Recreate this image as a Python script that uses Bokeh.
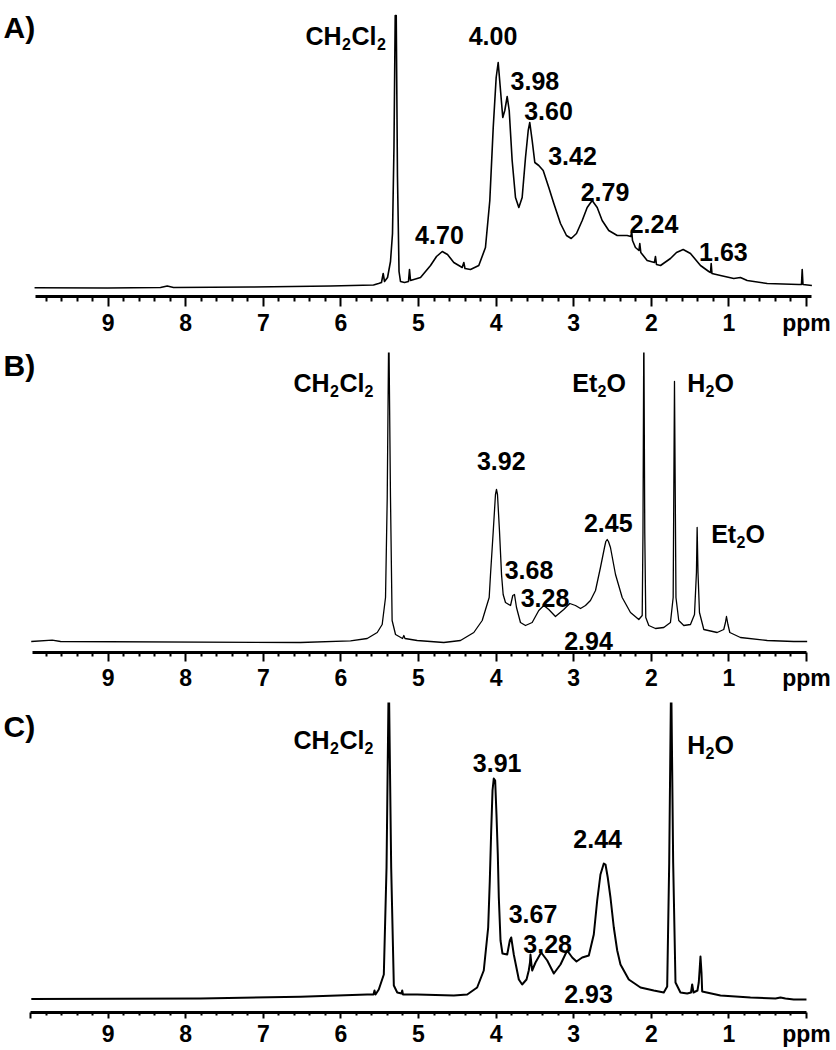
from bokeh.plotting import figure
from bokeh.models import Range1d, FixedTicker, Label
from bokeh.layouts import column
from bokeh.embed import file_html
from bokeh.resources import INLINE

# ---------------- data (chemical shift in ppm, intensity in a.u.) ----------------
A_ppm = [9.948, 9.008, 8.325, 8.238, 8.157, 7.165, 6.134, 5.580, 5.515, 5.477, 5.455, 5.438,
         5.399, 5.361, 5.335, 5.316, 5.300, 5.287, 5.271, 5.251, 5.232, 5.180, 5.129, 5.116,
         5.103, 4.974, 4.845, 4.768, 4.694, 4.626, 4.545, 4.437, 4.416, 4.401, 4.330, 4.223,
         4.137, 4.081, 4.037, 3.999, 3.973, 3.943, 3.914, 3.888, 3.857, 3.831, 3.793, 3.750,
         3.707, 3.664, 3.621, 3.586, 3.566, 3.535, 3.501, 3.450, 3.393, 3.321, 3.256, 3.170,
         3.093, 3.032, 2.964, 2.890, 2.826, 2.762, 2.697, 2.633, 2.548, 2.439, 2.311, 2.262,
         2.253, 2.242, 2.204, 2.159, 2.148, 2.135, 2.053, 1.959, 1.946, 1.933, 1.881, 1.753,
         1.675, 1.589, 1.495, 1.366, 1.259, 1.237, 1.228, 1.218, 1.108, 0.937, 0.851, 0.764,
         0.506, 0.099, 0.064, 0.055, 0.045, -0.07]
A_int = [8.7, 8.5, 9, 10.5, 9, 9.5, 10.5, 11.5, 13, 14, 23, 15,
         19, 35, 63, 150, 281, 281, 120, 25, 15, 14, 15, 27,
         16, 19, 31, 40, 45, 42, 34, 29, 34, 28, 27, 31,
         49, 96, 169, 219, 234, 206, 179, 186, 200, 186, 136, 99,
         89, 99, 139, 166, 174, 156, 134, 131, 126, 109, 93, 73,
         61, 58, 63, 76, 89, 96, 89, 76, 66, 61, 61, 60,
         66, 56, 49, 46, 53, 44, 36, 34, 40, 32, 31, 38,
         44, 47, 43, 31, 25, 24, 33, 23, 21, 18, 19, 16,
         13, 12, 12, 27, 12, 11]

B_ppm = [9.991, 9.720, 9.613, 6.521, 5.876, 5.661, 5.532, 5.468, 5.425, 5.403, 5.383, 5.361,
         5.340, 5.296, 5.206, 5.189, 5.174, 5.017, 4.674, 4.459, 4.287, 4.179, 4.089, 4.072,
         4.037, 4.008, 3.995, 3.982, 3.956, 3.930, 3.909, 3.879, 3.814, 3.785, 3.763, 3.737,
         3.686, 3.621, 3.535, 3.450, 3.385, 3.321, 3.235, 3.128, 3.050, 2.977, 2.912, 2.848,
         2.784, 2.719, 2.655, 2.603, 2.586, 2.568, 2.552, 2.526, 2.461, 2.375, 2.268, 2.161,
         2.117, 2.107, 2.096, 2.084, 2.071, 2.032, 1.946, 1.839, 1.753, 1.718, 1.701, 1.682,
         1.646, 1.581, 1.495, 1.443, 1.418, 1.409, 1.398, 1.379, 1.323, 1.151, 1.066, 1.044,
         1.031, 1.012, 0.988, 0.851, 0.506, 0.164, -0.009]
B_int = [11, 12.4, 11, 10, 11.7, 14, 20, 28, 55, 155, 330, 155,
         32, 18, 14, 17, 14, 12, 10, 12, 20, 32, 55, 78,
         121, 158, 163, 158, 121, 78, 58, 50, 47, 57, 58, 45,
         30, 27, 30, 42, 47, 43, 36, 43, 49, 47, 44, 47,
         52, 62, 85, 105, 111, 113, 111, 105, 78, 55, 40, 33,
         37, 120, 330, 120, 35, 27, 24, 25, 30, 55, 271, 55,
         32, 27, 28, 38, 80, 125, 80, 40, 23, 20, 23, 30,
         36, 28, 20, 15, 12, 11, 11]

C_ppm = [9.990, 7.809, 6.521, 5.661, 5.580, 5.567, 5.554, 5.512, 5.447, 5.412, 5.383, 5.352,
         5.318, 5.274, 5.219, 5.210, 5.200, 5.017, 4.545, 4.372, 4.244, 4.159, 4.102, 4.081,
         4.063, 4.046, 4.030, 4.012, 3.995, 3.978, 3.965, 3.943, 3.918, 3.857, 3.823, 3.805,
         3.772, 3.707, 3.664, 3.608, 3.579, 3.563, 3.557, 3.544, 3.535, 3.492, 3.419, 3.341,
         3.256, 3.170, 3.084, 3.019, 2.964, 2.890, 2.805, 2.741, 2.697, 2.655, 2.612, 2.590,
         2.561, 2.526, 2.483, 2.439, 2.397, 2.290, 2.139, 1.968, 1.839, 1.795, 1.769, 1.744,
         1.718, 1.688, 1.624, 1.537, 1.488, 1.473, 1.456, 1.405, 1.388, 1.375, 1.366, 1.353,
         1.344, 1.108, 0.722, 0.399, 0.335, 0.271, 0.164, 0.0]
C_int = [13.4, 14, 15.7, 18, 18, 22, 18, 23, 38, 145, 340, 145,
         27, 20, 19, 22, 18, 18, 17, 18, 25, 42, 85, 132,
         182, 222, 234, 232, 198, 158, 115, 72, 59, 58, 72, 75,
         58, 33, 28, 33, 42, 50, 58, 48, 42, 50, 60, 52,
         39, 48, 62, 55, 51, 55, 57, 78, 112, 138, 149, 148,
         135, 115, 85, 62, 48, 33, 25, 22, 20, 26, 150, 340,
         150, 30, 20, 19, 20, 28, 20, 22, 30, 45, 56, 40,
         21, 17, 15, 14, 15, 14, 13, 13]

major_ticks = [0, 1, 2, 3, 4, 5, 6, 7, 8, 9]
minor_ticks = [0.2, 0.4, 0.6, 0.8, 1.2, 1.4, 1.6, 1.8, 2.2, 2.4, 2.6, 2.8, 3.2, 3.4, 3.6, 3.8,
               4.2, 4.4, 4.6, 4.8, 5.2, 5.4, 5.6, 5.8, 6.2, 6.4, 6.6, 6.8, 7.2, 7.4, 7.6, 7.8,
               8.2, 8.4, 8.6, 8.8, 9.2, 9.4, 9.6, 9.8]
# the unit "ppm" sits under the 0 ppm tick in the original
tick_labels = {0: "ppm", 1: "1", 2: "2", 3: "3", 4: "4", 5: "5", 6: "6", 7: "7", 8: "8", 9: "9", 10: ""}

panel_names = ["A)", "B)", "C)"]
A_peaks = ["4.00", "3.98", "3.60", "3.42", "2.79", "2.24", "1.63", "4.70"]
B_peaks = ["3.92", "2.45", "3.68", "3.28", "2.94"]
C_peaks = ["3.91", "2.44", "3.67", "3.28", "2.93"]

# annotation anchors (x in ppm, y in intensity units) -- layout, not data
A_peak_pos = [(4.04, 261), (3.50, 216), (3.325, 186), (3.015, 141), (2.597, 105),
              (1.965, 73), (1.07, 45), (4.73, 62)]
B_peak_pos = [(3.934, 192), (2.555, 130), (3.576, 83), (3.37, 55), (2.809, 12)]
C_peak_pos = [(3.986, 250), (2.691, 174), (3.524, 99), (3.335, 69), (2.809, 19)]

FONT = "Liberation Sans"
W = 836
XR = (10.387, -0.387)


def txt(p, x, y, text, size, align="left"):
    p.add_layout(Label(x=x, y=y, text=text, text_font=FONT, text_font_style="bold",
                       text_font_size=f"{size}px", text_align=align,
                       text_baseline="alphabetic", text_color="black"))


def formula(p, parts, y_main, y_sub):
    # parts: list of (x, text, is_subscript)
    for x, t, sub in parts:
        txt(p, x, y_sub if sub else y_main, t, 16 if sub else 25)


def panel(height, top, bottom, ymax, xs, ys, bounds, ticks, tick_out, minor_out, standoff, lw):
    p = figure(width=W, height=height, x_range=Range1d(*XR), y_range=Range1d(0, ymax),
               output_backend="svg", toolbar_location=None, y_axis_location=None,
               min_border_left=0, min_border_right=0, min_border_top=top,
               min_border_bottom=bottom)
    p.outline_line_color = None
    p.xgrid.visible = False
    p.ygrid.visible = False
    p.background_fill_color = "white"
    p.border_fill_color = "white"
    ax = p.xaxis[0]
    ax.ticker = FixedTicker(ticks=ticks, minor_ticks=minor_ticks)
    ax.bounds = bounds
    ax.axis_line_width = 3
    ax.axis_line_color = "black"
    ax.major_tick_line_width = 2
    ax.major_tick_out = tick_out
    ax.major_tick_in = 0
    ax.minor_tick_line_width = 2
    ax.minor_tick_out = minor_out
    ax.minor_tick_in = 0
    ax.major_label_overrides = {k: v for k, v in tick_labels.items() if k in ticks}
    ax.major_label_text_font = FONT
    ax.major_label_text_font_style = "bold"
    ax.major_label_text_font_size = "23px"
    ax.major_label_text_color = "black"
    ax.major_label_standoff = standoff
    p.line(xs, ys, line_color="black", line_width=lw, line_join="round")
    return p


# ---------------- panel A ----------------
pA = panel(340, 0, 44, 296, A_ppm, A_int, (-0.06, 9.94), major_ticks, 10, 5, 3, 1.6)
txt(pA, 10.348, 269, panel_names[0], 30)
formula(pA, [(6.456, "CH", False), (5.986, "2", True), (5.863, "Cl", False), (5.535, "2", True)], 261, 253)
for t, (x, y) in zip(A_peaks, A_peak_pos):
    txt(pA, x, y, t, 25, "center")

# ---------------- panel B ----------------
pB = panel(354, 12, 42, 300, B_ppm, B_int, (0, 9.97), major_ticks, 9, 4, 3, 1.3)
txt(pB, 10.348, 287, panel_names[1], 30)
formula(pB, [(6.611, "CH", False), (6.140, "2", True), (6.018, "Cl", False), (5.696, "2", True)], 270, 262)
formula(pB, [(3.019, "Et", False), (2.693, "2", True), (2.577, "O", False)], 270, 262)
formula(pB, [(1.537, "H", False), (1.302, "2", True), (1.186, "O", False)], 270, 262)
formula(pB, [(1.228, "Et", False), (0.902, "2", True), (0.786, "O", False)], 119, 111)
for t, (x, y) in zip(B_peaks, B_peak_pos):
    txt(pB, x, y, t, 25, "center")

# ---------------- panel C ----------------
pC = panel(356, 8, 38, 310, C_ppm, C_int, (0, 10), major_ticks + [10], 6, 3, 2, 2.0)
txt(pC, 10.348, 286, panel_names[2], 30)
formula(pC, [(6.611, "CH", False), (6.140, "2", True), (6.018, "Cl", False), (5.696, "2", True)], 273, 265)
formula(pC, [(1.537, "H", False), (1.302, "2", True), (1.186, "O", False)], 268, 260)
for t, (x, y) in zip(C_peaks, C_peak_pos):
    txt(pC, x, y, t, 25, "center")

layout = column(pA, pB, pC)
open("out.html", "w").write(file_html(layout, INLINE))
